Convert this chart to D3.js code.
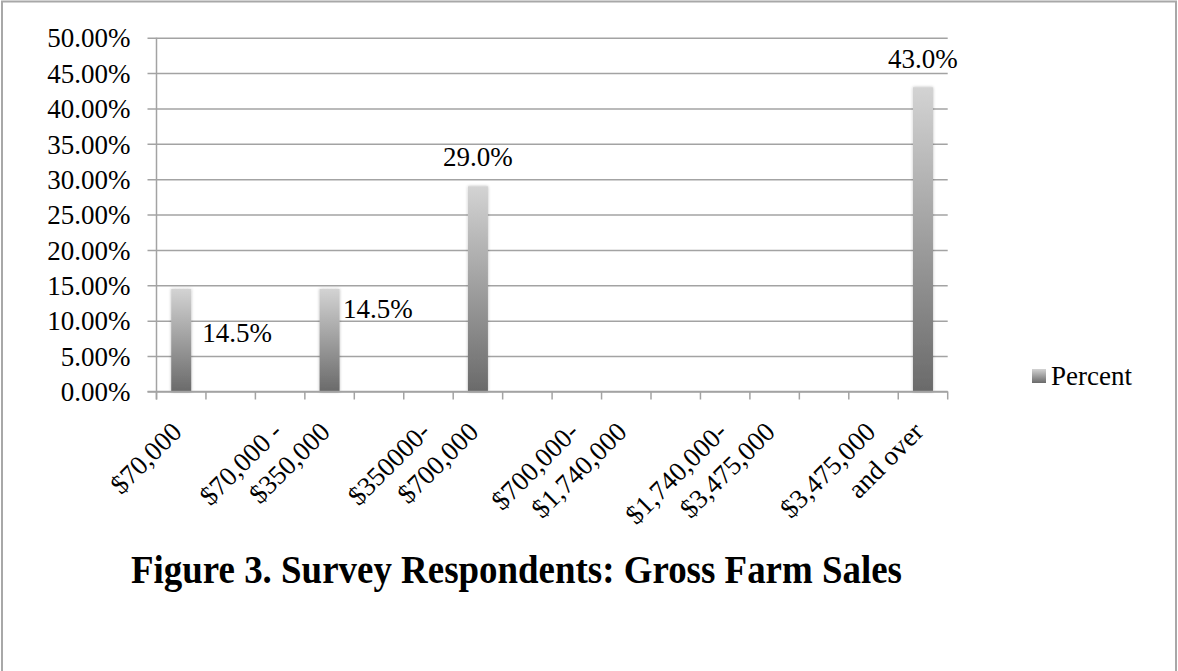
<!DOCTYPE html>
<html>
<head>
<meta charset="utf-8">
<script src="https://cdn.jsdelivr.net/npm/d3@7"></script>
<style>
  html, body { margin: 0; padding: 0; background: #fff; }
  svg { display: block; }
</style>
</head>
<body>
<svg id="chart" width="1178" height="671"></svg>
<script>
// ---------- data ----------
const categoryLabels = [
  ["$70,000"], [], [],
  ["$70,000 -", "$350,000"], [], [],
  ["$350000-", "$700,000"], [], [],
  ["$700,000-", "$1,740,000"], [], [],
  ["$1,740,000-", "$3,475,000"], [], [],
  ["$3,475,000", "and over"]
];
const percentValues = [14.5, null, null, 14.5, null, null, 29.0, null, null, null, null, null, null, null, null, 43.0];
const yTickValues = [0, 5, 10, 15, 20, 25, 30, 35, 40, 45, 50];
const seriesName = "Percent";
const chartTitle = "Figure 3. Survey Respondents: Gross Farm Sales";

// ---------- layout / style ----------
const W = 1178, H = 671;
const plot = { left: 156.5, right: 947.7, top: 37.7, bottom: 391.5 };
const font = "'Liberation Serif', 'Times New Roman', serif";
const gridColor = "#a3a3a3";
// label placement per bar (dx from bar centre, dy from bar top, anchor)
const labelPlacement = [
  { dx: 21, dy: 53, anchor: "start" },
  { dx: 13.5, dy: 29, anchor: "start" },
  { dx: 0, dy: -20, anchor: "middle" },
  { dx: 0, dy: -19, anchor: "middle" }
];

const svg = d3.select("#chart");
const defs = svg.append("defs");
const grad = defs.append("linearGradient").attr("id", "barGrad")
  .attr("x1", 0).attr("y1", 0).attr("x2", 0).attr("y2", 1);
grad.append("stop").attr("offset", "0%").attr("stop-color", "#d3d3d3");
grad.append("stop").attr("offset", "100%").attr("stop-color", "#6a6a6a");
const filt = defs.append("filter").attr("id", "shadow")
  .attr("x", "-50%").attr("y", "-10%").attr("width", "200%").attr("height", "120%");
filt.append("feDropShadow").attr("dx", 0).attr("dy", 0).attr("stdDeviation", 1.8)
  .attr("flood-color", "#000").attr("flood-opacity", 0.28);

// outer border
svg.append("rect").attr("x", 2).attr("y", 1.5).attr("width", 1174).attr("height", 680)
  .attr("fill", "#fff").attr("stroke", "#a8a8a8").attr("stroke-width", 2);

const x = d3.scaleBand().domain(d3.range(categoryLabels.length))
  .range([plot.left, plot.right]).padding(0);
const y = d3.scaleLinear().domain([0, 50]).range([plot.bottom, plot.top]);

// y axis + gridlines
const yAxis = d3.axisLeft(y).tickValues(yTickValues)
  .tickFormat(d => d3.format(".2f")(d) + "%")
  .tickSize(-(plot.right - plot.left)).tickPadding(26);
const gy = svg.append("g").attr("transform", `translate(${plot.left},0)`).call(yAxis);
gy.select(".domain").remove();
gy.selectAll(".tick line").attr("x1", -9).attr("stroke", gridColor).attr("stroke-width", 1.5);
gy.selectAll(".tick text").attr("font-family", font).attr("font-size", 27)
  .attr("fill", "#000").attr("dy", "0.34em");

// y axis line
svg.append("line").attr("x1", plot.left).attr("x2", plot.left)
  .attr("y1", plot.top).attr("y2", plot.bottom + 8)
  .attr("stroke", gridColor).attr("stroke-width", 1.5);

// x axis ticks at band boundaries
const boundaries = d3.range(categoryLabels.length + 1).map(i => plot.left + i * x.step());
svg.append("g").selectAll("line").data(boundaries).join("line")
  .attr("x1", d => d).attr("x2", d => d)
  .attr("y1", plot.bottom).attr("y2", plot.bottom + 8)
  .attr("stroke", gridColor).attr("stroke-width", 1.5);

// x category labels (rotated)
const xl = svg.append("g");
categoryLabels.forEach((lines, i) => {
  const cx = x(i) + x.bandwidth() / 2;
  const n = lines.length;
  lines.forEach((t, j) => {
    const px = cx + 2 - 48 * (n - 1 - j);
    const py = plot.bottom + 42;
    xl.append("text").attr("transform", `translate(${px},${py}) rotate(-45)`)
      .attr("text-anchor", "end").attr("font-family", font).attr("font-size", 27)
      .attr("fill", "#000").text(t);
  });
});

// bars
const barW = 20;
const barData = percentValues.map((v, i) => ({ v, i })).filter(d => d.v != null);
svg.append("g").selectAll("rect").data(barData).join("rect")
  .attr("x", d => x(d.i) + x.bandwidth() / 2 - barW / 2)
  .attr("y", d => y(d.v))
  .attr("width", barW)
  .attr("height", d => y(0) - y(d.v))
  .attr("fill", "url(#barGrad)")
  .attr("filter", "url(#shadow)");

// x axis line (on top)
svg.append("line").attr("x1", plot.left - 9).attr("x2", plot.right)
  .attr("y1", plot.bottom).attr("y2", plot.bottom)
  .attr("stroke", gridColor).attr("stroke-width", 1.5);

// data labels
svg.append("g").selectAll("text").data(barData).join("text")
  .attr("x", (d, k) => x(d.i) + x.bandwidth() / 2 + labelPlacement[k].dx)
  .attr("y", (d, k) => y(d.v) + labelPlacement[k].dy)
  .attr("text-anchor", (d, k) => labelPlacement[k].anchor)
  .attr("font-family", font).attr("font-size", 27).attr("fill", "#000")
  .text(d => d.v.toFixed(1) + "%");

// legend
const lg = svg.append("g").attr("transform", "translate(1032,369)");
lg.append("rect").attr("width", 14).attr("height", 14).attr("fill", "url(#barGrad)");
lg.append("text").attr("x", 19).attr("y", 16).attr("font-family", font)
  .attr("font-size", 27).attr("fill", "#000").text(seriesName);

// title
svg.append("text").attr("x", 131).attr("y", 583)
  .attr("font-family", font).attr("font-weight", "bold").attr("font-size", 40)
  .attr("textLength", 771).attr("lengthAdjust", "spacingAndGlyphs")
  .attr("fill", "#000").text(chartTitle);
</script>
</body>
</html>
